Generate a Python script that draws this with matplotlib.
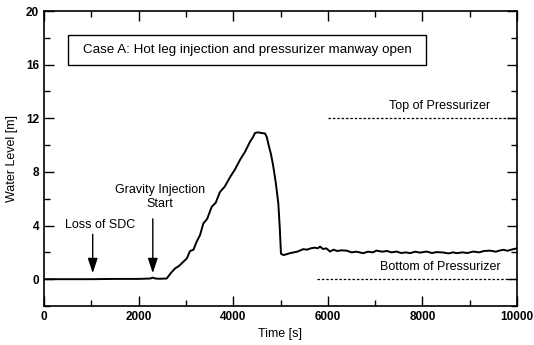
import matplotlib
matplotlib.use("Agg")
import matplotlib.pyplot as plt
from matplotlib.patches import Rectangle
from matplotlib.ticker import MultipleLocator

plt.rcParams['font.family'] = ['Liberation Sans', 'DejaVu Sans']

# water level trace
time_s = [0, 500, 1000, 1500, 2000, 2250, 2300, 2350, 2450, 2594,
          2680, 2770, 2860, 2945, 3020, 3087, 3160, 3228, 3300, 3368,
          3450, 3545, 3630, 3720, 3820, 3932, 4040, 4144, 4250, 4355,
          4420, 4460, 4520, 4600, 4672, 4710, 4742, 4800, 4848, 4900,
          4954, 4985, 5010, 5060, 5120, 5200, 5280, 5342, 5420, 5482,
          5560, 5640, 5720, 5790, 5835, 5900, 5970, 6046, 6120, 6200,
          6280, 6400, 6500, 6600, 6750, 6850, 6950, 7030, 7150, 7250,
          7350, 7455, 7550, 7650, 7737, 7850, 7950, 8090, 8200, 8300,
          8442, 8550, 8650, 8725, 8850, 8950, 9077, 9200, 9300, 9430,
          9550, 9650, 9711, 9800, 9900, 10000]
level_m = [0.0, 0.0, 0.0, 0.02, 0.02, 0.05, 0.12, 0.05, 0.03, 0.05,
           0.45, 0.8, 1.0, 1.3, 1.55, 2.1, 2.2, 2.8, 3.3, 4.15,
           4.5, 5.4, 5.7, 6.5, 6.9, 7.6, 8.2, 8.9, 9.5, 10.25,
           10.6, 10.9, 10.95, 10.9, 10.87, 10.6, 10.1, 9.3, 8.4, 7.2,
           5.65, 3.8, 1.9, 1.8, 1.85, 1.94, 2.0, 2.04, 2.15, 2.24,
           2.2, 2.3, 2.35, 2.3, 2.43, 2.25, 2.3, 2.06, 2.2, 2.1,
           2.15, 2.13, 2.0, 2.05, 1.94, 2.05, 2.0, 2.13, 2.05, 2.1,
           2.0, 2.06, 1.95, 2.0, 1.94, 2.05, 1.98, 2.06, 1.95, 2.02,
           1.99, 1.92, 2.0, 1.94, 2.0, 1.95, 2.06, 2.0, 2.1, 2.13,
           2.05, 2.15, 2.19, 2.12, 2.22, 2.3]

top_of_pressurizer = 12.0
bottom_of_pressurizer = 0.0
ref_x_start = [6000, 5770]

fig = plt.figure(figsize=(5.34, 3.45), dpi=100)
ax = fig.add_axes([44 / 534, 1 - 306 / 345, (517 - 44) / 534, (306 - 11) / 345])

ax.plot(time_s, level_m, color='black', lw=1.4)
ax.plot([ref_x_start[0], 10000], [top_of_pressurizer] * 2, color='black',
        lw=0.9, ls=(0, (2, 1.5)))
ax.plot([ref_x_start[1], 10000], [bottom_of_pressurizer] * 2, color='black',
        lw=0.9, ls=(0, (2, 1.5)))

ax.text(8370, 12.5, 'Top of Pressurizer', fontsize=9, ha='center', va='bottom')
ax.text(8370, 0.45, 'Bottom of Pressurizer', fontsize=9, ha='center', va='bottom')

arrow = dict(arrowstyle='-|>,head_length=0.9,head_width=0.3', color='black',
             lw=1.0, shrinkA=0, shrinkB=0)
ax.annotate('', xy=(1030, 0.45), xytext=(1030, 3.35), arrowprops=arrow)
ax.text(1180, 3.6, 'Loss of SDC', fontsize=9, ha='center', va='bottom')
ax.annotate('', xy=(2300, 0.45), xytext=(2300, 4.5), arrowprops=arrow)
ax.text(2450, 5.15, 'Gravity Injection\nStart', fontsize=9, ha='center',
        va='bottom', linespacing=1.2)

ax.add_patch(Rectangle((500, 16.0), 7580, 2.2, fill=False, ec='black', lw=1.0))
ax.text(4290, 17.1, 'Case A: Hot leg injection and pressurizer manway open',
        fontsize=9.6, ha='center', va='center')

ax.set_xlim(0, 10000)
ax.set_ylim(-2, 20)
ax.xaxis.set_major_locator(MultipleLocator(2000))
ax.xaxis.set_minor_locator(MultipleLocator(1000))
ax.yaxis.set_major_locator(MultipleLocator(4))
ax.yaxis.set_minor_locator(MultipleLocator(2))
ax.tick_params(which='both', direction='in', top=True, right=True,
               labelsize=8.5, width=1.0)
ax.tick_params(which='major', length=7)
ax.tick_params(which='minor', length=4)
for lab in ax.get_xticklabels() + ax.get_yticklabels():
    lab.set_fontweight('bold')
for sp in ax.spines.values():
    sp.set_linewidth(1.2)

ax.set_xlabel('Time [s]', fontsize=9, labelpad=4)
ax.set_ylabel('Water Level [m]', fontsize=9, labelpad=6)

fig.savefig('out.png', dpi=100)
